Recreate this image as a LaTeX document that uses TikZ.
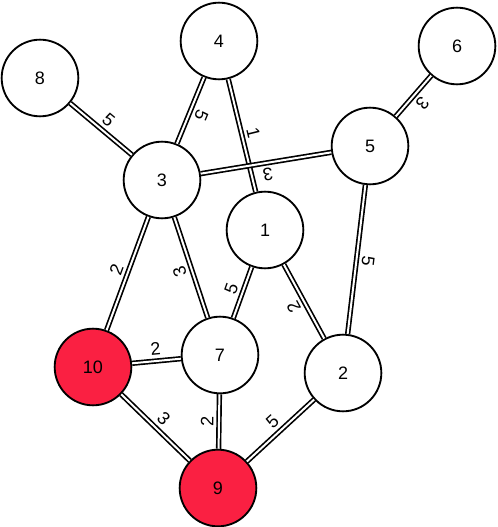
\documentclass[tikz,border=0pt]{standalone}
\usepackage{fontspec}
\setmainfont{Liberation Sans}
\definecolor{hitred}{RGB}{250,32,66}

\begin{document}
\begin{tikzpicture}[x=0.75pt, y=-0.75pt, font=\fontsize{13.5}{16}\selectfont,
  vtx/.style={draw,circle,line width=1.4pt,minimum size=57.5pt,inner sep=0pt,fill=white},
  hit/.style={vtx,fill=hitred},
  link/.style={double,line width=1.25pt,double distance=1.5pt},
  wt/.style={midway,sloped,allow upside down,above=1.5pt,inner sep=2pt}]
  \useasboundingbox (0,0) rectangle (498,527);
  \node[vtx] (n1) at (265,230) {1};
  \node[vtx] (n2) at (343,373) {2};
  \node[vtx] (n3) at (162,180) {3};
  \node[vtx] (n4) at (219,41) {4};
  \node[vtx] (n5) at (370,146) {5};
  \node[vtx] (n6) at (457,46) {6};
  \node[vtx] (n7) at (220,355) {7};
  \node[vtx] (n8) at (40,78) {8};
  \node[hit] (n9) at (218,488) {9};
  \node[hit] (n10) at (93,367) {10};
  \draw[link] (n8) -- node[wt] {5} (n3);
  \draw[link] (n4) -- node[wt] {5} (n3);
  \draw[link] (n4) -- node[wt] {1} (n1);
  \draw[link] (n5) -- node[wt] {3} (n3);
  \draw[link] (n6) -- node[wt] {3} (n5);
  \draw[link] (n5) -- node[wt] {5} (n2);
  \draw[link] (n10) -- node[wt] {2} (n3);
  \draw[link] (n7) -- node[wt] {3} (n3);
  \draw[link] (n7) -- node[wt] {5} (n1);
  \draw[link] (n2) -- node[wt] {2} (n1);
  \draw[link] (n10) -- node[wt] {2} (n7);
  \draw[link] (n10) -- node[wt] {3} (n9);
  \draw[link] (n9) -- node[wt] {2} (n7);
  \draw[link] (n9) -- node[wt] {5} (n2);
\end{tikzpicture}
\end{document}
